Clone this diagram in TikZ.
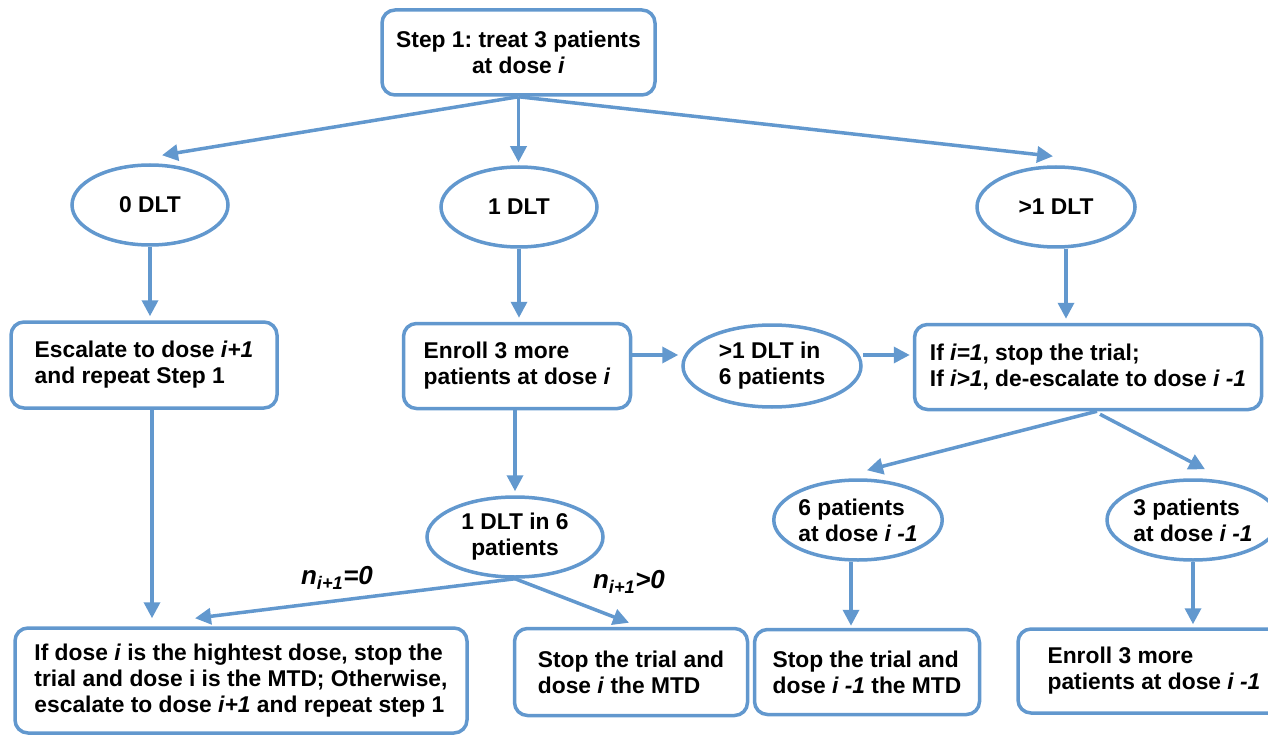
\documentclass[tikz,border=0pt]{standalone}
\usepackage{fontspec}
\setmainfont{Liberation Sans}
\usetikzlibrary{shapes.geometric,arrows.meta,calc}
\definecolor{bl}{RGB}{98,152,206}
\frenchspacing
\begin{document}
\begin{tikzpicture}[x=1pt,y=-1pt,
  font=\fontsize{22.8}{26}\selectfont\bfseries,
  box/.style={draw=bl, line width=3.5pt, rounded corners=13pt, align=left, inner sep=0pt},
  oval/.style={draw=bl, line width=3.5pt, ellipse, inner sep=0pt, align=left},
  arr/.style={draw=bl, line width=3.5pt, -{Triangle[length=16pt,width=16pt]}},
  lbl/.style={inner sep=0pt, font=\fontsize{26}{28}\selectfont\bfseries\itshape}]
\useasboundingbox (0,0) rectangle (1268,735);
\clip (0,0) rectangle (1268,735);
% nodes
\node[box, align=center, minimum width=273pt, minimum height=85pt] (step) at (518.5,52.5) {Step 1: treat 3 patients\\at dose \textit{i}};
\node[oval, minimum width=156pt, minimum height=80pt] (zero) at (150,205) {0 DLT};
\node[oval, minimum width=156pt, minimum height=80pt] (one) at (519,207) {1 DLT};
\node[oval, minimum width=158pt, minimum height=80pt] (more) at (1056,207) {>1 DLT};
\node[box, minimum width=266pt, minimum height=86pt] (esc) at (144,365) {Escalate to dose \textit{i+1}\\and repeat Step 1};
\node[box, minimum width=227pt, minimum height=85pt] (enr) at (517,366) {Enroll 3 more\\patients at dose \textit{i}};
\node[oval, minimum width=178pt, minimum height=82pt] (six) at (772,366) {>1 DLT in\\6 patients};
\node[box, minimum width=347pt, minimum height=85pt] (ifb) at (1088,367) {If \textit{i=1}, stop the trial;\\If \textit{i>1}, de-escalate to dose \textit{i -1}};
\node[oval, align=center, minimum width=176pt, minimum height=80pt] (dlt6) at (515,537) {1 DLT in 6\\patients};
\node[oval, minimum width=164pt, minimum height=80pt] (p6) at (858,520) {6 patients\\at dose \textit{i -1}};
\node[oval, minimum width=172pt, minimum height=80pt] (p3) at (1193,520) {3 patients\\at dose \textit{i -1}};
\node[box, minimum width=452pt, minimum height=105pt] (big) at (241,680.5) {If dose \textit{i} is the hightest dose, stop the\\trial and dose i is the MTD; Otherwise,\\escalate to dose \textit{i+1} and repeat step 1};
\node[box, minimum width=233pt, minimum height=87pt] (stop) at (631,672) {Stop the trial and\\dose \textit{i} the MTD};
\node[box, minimum width=225pt, minimum height=85pt] (stop2) at (867,672) {Stop the trial and\\dose \textit{i -1} the MTD};
\node[box, minimum width=272pt, minimum height=84pt] (enr2) at (1154,671) {Enroll 3 more\\patients at dose \textit{i -1}};
% labels
\node[lbl] (l0) at (337,578) {n\textsubscript{i+1}=0};
\node[lbl] (l1) at (629,582) {n\textsubscript{i+1}>0};
% arrows
\draw[arr] (step.south) -- ($(zero.north)+(12,-8)$);
\draw[arr, shorten >=3pt] (step.south) -- (step.south |- one.north);
\draw[arr] (step.south) -- ($(more.north)+(-3,-9)$);
\draw[arr, shorten >=4pt] (zero.south) -- (esc.north -| zero.south);
\draw[arr, shorten >=4pt] (one.south) -- (enr.north -| one.south);
\draw[arr, shorten >=4pt] ([xshift=10pt]more.south) -- ([xshift=10pt]more.south |- ifb.north);
\draw[arr, shorten >=3pt] ([yshift=11pt]enr.east) -- ([yshift=11pt]enr.east -| six.west);
\draw[arr, shorten >=3pt] ([yshift=11pt]six.east) -- ([yshift=11pt]six.east -| ifb.west);
\draw[arr, shorten >=4pt] (dlt6.north |- enr.south) -- (dlt6.north);
\draw[arr, shorten >=8pt] ([xshift=8pt]esc.south) -- ([xshift=8pt]esc.south |- big.north);
\draw[arr] (dlt6.south) -- ($(big.north)+(-46,-8)$);
\draw[arr] (dlt6.south) -- ($(stop.north)+(-2,-4)$);
\draw[arr] ([xshift=9pt]ifb.south) -- ($(p6.north)+(9,-8)$);
\draw[arr] ([xshift=12pt,yshift=-3pt]ifb.south) -- ($(p3.north)+(12,-9)$);
\draw[arr, shorten >=2pt] ([xshift=-7pt]p6.south) -- ([xshift=-7pt]p6.south |- stop2.north);
\draw[arr, shorten >=3pt] (p3.south) -- (p3.south |- enr2.north);
\end{tikzpicture}
\end{document}
